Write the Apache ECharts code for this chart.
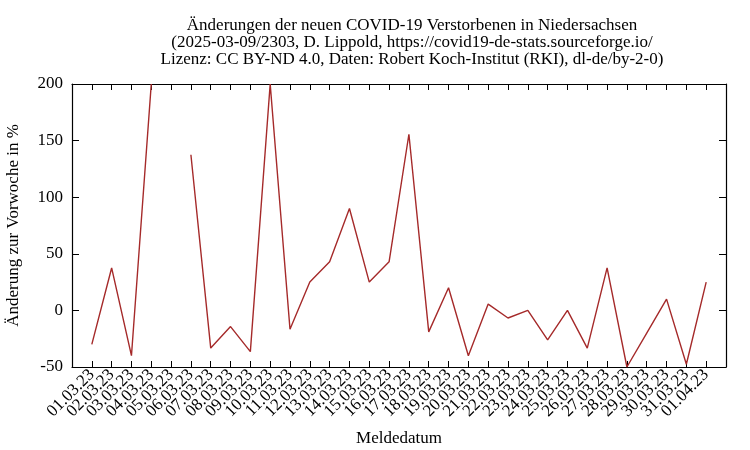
<!DOCTYPE html>
<html>
<head>
<meta charset="utf-8">
<script src="https://cdn.jsdelivr.net/npm/echarts@6/dist/echarts.min.js"></script>
<style>
  html, body { margin: 0; padding: 0; background: #fff; }
  #chart { width: 750px; height: 450px; }
</style>
</head>
<body>
<div id="chart"></div>
<script>
// Meldedatum
var dates = [
  '01.03.23', '02.03.23', '03.03.23', '04.03.23', '05.03.23', '06.03.23', '07.03.23', '08.03.23',
  '09.03.23', '10.03.23', '11.03.23', '12.03.23', '13.03.23', '14.03.23', '15.03.23', '16.03.23',
  '17.03.23', '18.03.23', '19.03.23', '20.03.23', '21.03.23', '22.03.23', '23.03.23', '24.03.23',
  '25.03.23', '26.03.23', '27.03.23', '28.03.23', '29.03.23', '30.03.23', '31.03.23', '01.04.23'
];
// Änderung zur Vorwoche in %, null = kein Wert
var changes = [
  -30, 37.5, -40, 200, null, 137.5, -33.3, -14.3,
  -36.4, 200, -16.7, 25, 42.9, 90, 25, 42.9,
  155.6, -19, 20, -40, 5.6, -6.7, 0, -26,
  0, -33.3, 37.5, -50, -20, 10, -47.6, 25
];
var yTicks = [-50, 0, 50, 100, 150, 200];

var font = 'Liberation Serif, DejaVu Serif, serif';

var points = dates.map(function (d, i) {
  return [i, changes[i]];
});

function dateLabel(v) {
  return (v >= 0 && v < dates.length) ? dates[v] : '';
}

var axisLine = { show: true, onZero: false, lineStyle: { color: '#000', width: 1.2 } };

var chart = echarts.init(document.getElementById('chart'));
chart.setOption({
  animation: false,
  backgroundColor: '#fff',
  title: {
    text: 'Änderungen der neuen COVID-19 Verstorbenen in Niedersachsen\n' +
          '(2025-03-09/2303, D. Lippold, https://covid19-de-stats.sourceforge.io/\n' +
          'Lizenz: CC BY-ND 4.0, Daten: Robert Koch-Institut (RKI), dl-de/by-2-0)',
    left: 407,
    top: 12,
    textAlign: 'center',
    textStyle: {
      fontFamily: font,
      fontWeight: 'normal',
      fontSize: 17,
      lineHeight: 17,
      color: '#000'
    }
  },
  grid: {
    left: 72, right: 24, top: 84, bottom: 83,
    containLabel: false,
    outerBoundsMode: 'none'
  },
  xAxis: [{
    type: 'value',
    min: -1,
    max: dates.length,
    interval: 1,
    name: 'Meldedatum',
    nameLocation: 'middle',
    nameGap: 63,
    nameTextStyle: { fontFamily: font, fontSize: 17, color: '#000' },
    axisLine: axisLine,
    axisTick: { show: true, inside: true, length: 6, lineStyle: { color: '#000' } },
    axisLabel: {
      formatter: dateLabel,
      rotate: 45,
      margin: 5,
      fontFamily: font,
      fontSize: 17,
      color: '#000',
      showMinLabel: false,
      showMaxLabel: false
    },
    splitLine: { show: false }
  }, {
    type: 'value',
    position: 'top',
    min: -1,
    max: dates.length,
    interval: 1,
    axisLine: axisLine,
    axisTick: { show: true, inside: true, length: 6, lineStyle: { color: '#000' } },
    axisLabel: { show: false },
    splitLine: { show: false }
  }],
  yAxis: [{
    type: 'value',
    min: -50,
    max: 200,
    interval: 50,
    name: 'Änderung zur Vorwoche in %',
    nameLocation: 'middle',
    nameGap: 50,
    nameTextStyle: { fontFamily: font, fontSize: 17, color: '#000' },
    axisLine: axisLine,
    axisTick: { show: true, inside: true, length: 7, lineStyle: { color: '#000' } },
    axisLabel: {
      formatter: function (v) { return yTicks.indexOf(v) >= 0 ? String(v) : ''; },
      margin: 9,
      fontFamily: font,
      fontSize: 17,
      color: '#000'
    },
    splitLine: { show: false }
  }, {
    type: 'value',
    position: 'right',
    min: -50,
    max: 200,
    interval: 50,
    axisLine: axisLine,
    axisTick: { show: true, inside: true, length: 7, lineStyle: { color: '#000' } },
    axisLabel: { show: false },
    splitLine: { show: false }
  }],
  series: [{
    type: 'line',
    data: points,
    xAxisIndex: 0,
    yAxisIndex: 0,
    showSymbol: false,
    connectNulls: false,
    clip: true,
    lineStyle: { color: '#a52a2a', width: 1.4 }
  }]
});
</script>
</body>
</html>
